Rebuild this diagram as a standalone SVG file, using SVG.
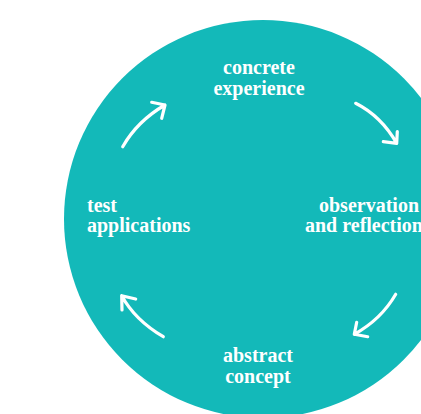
<svg xmlns="http://www.w3.org/2000/svg" width="421" height="414" viewBox="0 0 421 414">
  <style>
    .disc { fill: #13b9b9; }
    .label { font-family: "Liberation Serif", "Times New Roman", serif; font-weight: bold; font-size: 20px; fill: #ffffff; }
    .flow { fill: none; stroke: #ffffff; stroke-width: 3.2; stroke-linecap: round; stroke-linejoin: round; }
  </style>
  <rect width="421" height="414" fill="#ffffff"/>
  <!-- learning cycle backdrop -->
  <circle class="disc" cx="263" cy="219" r="199"/>

  <g id="concrete-experience">
    <text class="label" x="259" y="74" text-anchor="middle">concrete</text>
    <text class="label" x="259" y="95" text-anchor="middle">experience</text>
  </g>
  <g id="observation-reflection">
    <text class="label" x="319" y="212">observation</text>
    <text class="label" x="305" y="232">and reflection</text>
  </g>
  <g id="abstract-concept">
    <text class="label" x="258" y="362" text-anchor="middle">abstract</text>
    <text class="label" x="258" y="383" text-anchor="middle">concept</text>
  </g>
  <g id="test-applications">
    <text class="label" x="87" y="212">test</text>
    <text class="label" x="87" y="232">applications</text>
  </g>

  <!-- curved arrows with open chevron heads, running clockwise -->
  <g id="connectors">
    <path class="flow" d="M355.7 103.3 Q381 116 396.7 143.3 M397.3 131.7 L396.7 143.3 L383.3 141.7"/>
    <path class="flow" d="M395.7 294.3 Q381.1 319.5 354.3 334.3 M356.7 322.3 L354.3 334.3 L367.7 336.7"/>
    <path class="flow" d="M163.3 336.7 Q135 320 121.7 295.7 M135.7 299 L121.7 295.7 L122 310"/>
    <path class="flow" d="M122.7 146.7 Q137.5 120.9 165 105 M151.7 102.3 L165 105 L161.7 118.3"/>
  </g>
</svg>
